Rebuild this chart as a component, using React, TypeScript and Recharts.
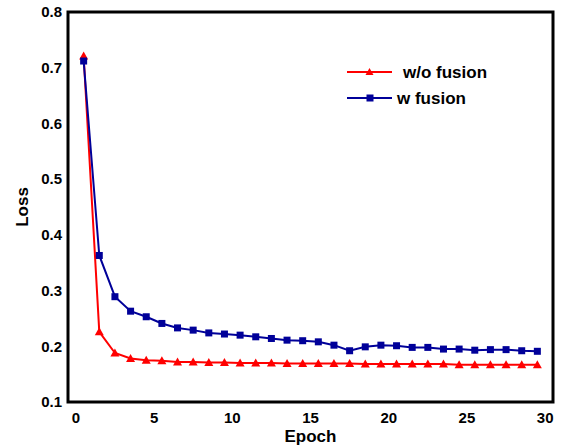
import { LineChart, Line, XAxis, YAxis, ReferenceArea } from 'recharts'

const epochs = [
  0.5, 1.5, 2.5, 3.5, 4.5, 5.5, 6.5, 7.5, 8.5, 9.5,
  10.5, 11.5, 12.5, 13.5, 14.5, 15.5, 16.5, 17.5, 18.5, 19.5,
  20.5, 21.5, 22.5, 23.5, 24.5, 25.5, 26.5, 27.5, 28.5, 29.5,
]
const woFusion = [
  0.721, 0.226, 0.188, 0.178, 0.175, 0.174, 0.172, 0.172, 0.171, 0.171,
  0.170, 0.170, 0.170, 0.169, 0.169, 0.169, 0.169, 0.169, 0.168, 0.168,
  0.168, 0.168, 0.168, 0.168, 0.167, 0.167, 0.167, 0.167, 0.167, 0.167,
]
const wFusion = [
  0.712, 0.363, 0.289, 0.263, 0.253, 0.241, 0.233, 0.229, 0.224, 0.222,
  0.220, 0.217, 0.214, 0.211, 0.210, 0.208, 0.202, 0.192, 0.199, 0.202,
  0.201, 0.198, 0.198, 0.195, 0.195, 0.193, 0.194, 0.194, 0.192, 0.191,
]
const xTicks = [0, 5, 10, 15, 20, 25, 30]
const yTicks = [0.1, 0.2, 0.3, 0.4, 0.5, 0.6, 0.7, 0.8]

const RED = '#ff0000'
const BLUE = '#000099'
const FONT = '"Liberation Sans", Arial, sans-serif'

const data = epochs.map((e, i) => ({ epoch: e, wo: woFusion[i], w: wFusion[i] }))

const Triangle = (props: any) => {
  const { cx, cy, key } = props
  if (cx == null || cy == null) return <g key={key} />
  return <path key={key} d={`M${cx},${cy - 4.5} L${cx + 4.5},${cy + 3.5} L${cx - 4.5},${cy + 3.5} Z`} fill={RED} />
}

const Square = (props: any) => {
  const { cx, cy, key } = props
  if (cx == null || cy == null) return <g key={key} />
  return <rect key={key} x={cx - 3.5} y={cy - 3.5} width={7} height={7} fill={BLUE} />
}

// legend drawn as an overlay so it doesn't eat into the plot height
const LegendBox = () => (
  <svg width={160} height={56} style={{ position: 'absolute', left: 345, top: 60, fontFamily: FONT, fontWeight: 'bold' }}>
    <line x1={2} y1={12} x2={47} y2={12} stroke={RED} strokeWidth={2} />
    <path d="M24.5,8 L28.5,15 L20.5,15 Z" fill={RED} />
    <text x={58} y={18} fontSize={17} fill="#000">w/o fusion</text>
    <line x1={2} y1={38} x2={47} y2={38} stroke={BLUE} strokeWidth={2} />
    <rect x={21.5} y={34.5} width={7} height={7} fill={BLUE} />
    <text x={52} y={44} fontSize={17} fill="#000">w fusion</text>
  </svg>
)

export default function App() {
  const tick = { fontSize: 15, fontWeight: 'bold', fill: '#000', fontFamily: FONT }
  return (
    <div style={{ position: 'absolute', left: 0, top: 0, width: 561, height: 445, background: '#fff' }}>
      <LineChart width={561} height={445} data={data} margin={{ top: 12, right: 8, bottom: 0, left: 0 }}>
        <XAxis
          dataKey="epoch"
          type="number"
          domain={[-0.5, 30.5]}
          ticks={xTicks}
          tickLine={false}
          axisLine={false}
          tick={tick}
          tickMargin={4}
          height={43}
          label={{ value: 'Epoch', position: 'insideBottom', offset: 3, style: { fontSize: 17, fontWeight: 'bold', fill: '#000', fontFamily: FONT } }}
        />
        <YAxis
          type="number"
          domain={[0.1, 0.8]}
          ticks={yTicks}
          tickLine={false}
          axisLine={false}
          tick={tick}
          tickFormatter={(v: number) => v.toFixed(1)}
          tickMargin={0}
          width={68}
          label={{ value: 'Loss', angle: -90, position: 'insideLeft', offset: 22, style: { fontSize: 17, fontWeight: 'bold', fill: '#000', fontFamily: FONT, textAnchor: 'middle' } }}
        />
        <ReferenceArea x1={-0.5} x2={30.5} y1={0.1} y2={0.8} fill="none" stroke="#000" strokeWidth={3} ifOverflow="visible" />
        <Line dataKey="wo" stroke={RED} strokeWidth={2} dot={<Triangle />} activeDot={false} isAnimationActive={false} />
        <Line dataKey="w" stroke={BLUE} strokeWidth={2} dot={<Square />} activeDot={false} isAnimationActive={false} />
      </LineChart>
      <LegendBox />
    </div>
  )
}
